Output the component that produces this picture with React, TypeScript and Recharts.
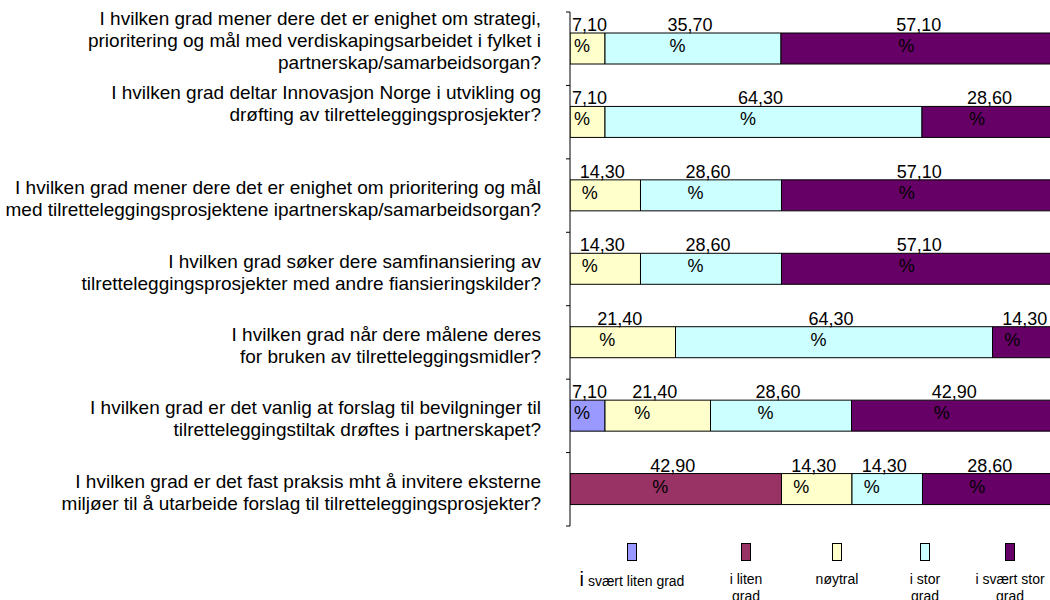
import React from 'react';
import { BarChart, Bar, XAxis, YAxis, Legend, LabelList } from 'recharts';

// spørsmål (blank trailing lines keep the original vertical placement)
const questions = [
    'I hvilken grad mener dere det er enighet om strategi,\nprioritering og mål med verdiskapingsarbeidet i fylket i\npartnerskap/samarbeidsorgan?\n',
    'I hvilken grad deltar Innovasjon Norge i utvikling og\ndrøfting av tilretteleggingsprosjekter?\n\n',
    'I hvilken grad mener dere det er enighet om prioritering og mål\nmed tilretteleggingsprosjektene ipartnerskap/samarbeidsorgan?',
    'I hvilken grad søker dere samfinansiering av\ntilretteleggingsprosjekter med andre fiansieringskilder?',
    'I hvilken grad når dere målene deres\nfor bruken av tilretteleggingsmidler?',
    'I hvilken grad er det vanlig at forslag til bevilgninger til\ntilretteleggingstiltak drøftes i partnerskapet?',
    'I hvilken grad er det fast praksis mht å invitere eksterne\nmiljøer til å utarbeide forslag til tilretteleggingsprosjekter?',
];

const sværtLiten = [0, 0, 0, 0, 0, 7.1, 0];
const liten = [0, 0, 0, 0, 0, 0, 42.9];
const nøytral = [7.1, 7.1, 14.3, 14.3, 21.4, 21.4, 14.3];
const stor = [35.7, 64.3, 28.6, 28.6, 64.3, 28.6, 14.3];
const sværtStor = [57.1, 28.6, 57.1, 57.1, 14.3, 42.9, 28.6];

const seriesNames = ['i svært liten grad', 'i liten grad', 'nøytral', 'i stor grad', 'i svært stor grad'];
const seriesKeys = ['sl', 'l', 'n', 's', 'ss'];
const seriesColors = ['#9999FF', '#993366', '#FFFFCC', '#CCFFFF', '#660066'];

const data = questions.map((q, i) => ({
    q,
    sl: sværtLiten[i],
    l: liten[i],
    n: nøytral[i],
    s: stor[i],
    ss: sværtStor[i],
}));

const FONT = '"Liberation Sans", Arial, sans-serif';
const BAND_HALF = (526 - 12) / questions.length / 2;

const CategoryTick = (props: any) => {
    const { x, y, payload, index } = props;
    const lines: string[] = payload.value.split('\n');
    const lh = 22;
    const y0 = y - ((lines.length - 1) * lh) / 2;
    const axisX = x + 29;
    return (
        <g>
            <text x={x} y={y0} textAnchor="end" fontSize={19} fontFamily={FONT} fill="#000">
                {lines.map((l, i) => (
                    <tspan key={i} x={x} y={y0 + i * lh} dy="0.5em">
                        {l}
                    </tspan>
                ))}
            </text>
            <line x1={axisX - 4} x2={axisX} y1={y - BAND_HALF} y2={y - BAND_HALF} stroke="#000" />
            {index === questions.length - 1 && (
                <line x1={axisX - 4} x2={axisX} y1={y + BAND_HALF} y2={y + BAND_HALF} stroke="#000" />
            )}
        </g>
    );
};

const ValueLabel = (props: any) => {
    const { x, y, width, value } = props;
    if (!value) return null;
    const str = Number(value).toFixed(2).replace('.', ',');
    const numW = str.split('').reduce((w, c) => w + (c === ',' ? 0.278 : 0.556), 0) * 18;
    const start = Math.max(x + width / 2 - 3 - numW / 2, x + 2);
    return (
        <g fontFamily={FONT} fontSize={18} fill="#000">
            <text x={start} y={y - 2}>{str}</text>
            <text x={start + 2} y={y + 19}>%</text>
        </g>
    );
};

const legendCenters = [632, 746, 837, 925, 1010];
const legendWidths = [130, 50, 60, 50, 80];

const LegendContent = () => (
    <div style={{ position: 'relative', width: 1050, height: 62, fontFamily: FONT }}>
        {seriesNames.map((name, i) => (
            <div
                key={name}
                style={{
                    position: 'absolute',
                    left: legendCenters[i] - legendWidths[i] / 2,
                    top: 5,
                    width: legendWidths[i],
                    display: 'flex',
                    flexDirection: 'column',
                    alignItems: 'center',
                }}
            >
                <div
                    style={{
                        width: 8,
                        height: 16,
                        background: seriesColors[i],
                        border: '1.5px solid #000',
                    }}
                />
                <div style={{ marginTop: 10, fontSize: 14, lineHeight: '17px', textAlign: 'center', color: '#000' }}>
                    {i === 0 ? (
                        <>
                            <span style={{ fontSize: 20 }}>{name.charAt(0)}</span>
                            {name.slice(1)}
                        </>
                    ) : (
                        name
                    )}
                </div>
            </div>
        ))}
    </div>
);

export default function App() {
    return (
        <div
            style={{
                position: 'fixed',
                top: 0,
                left: 0,
                width: 1050,
                height: 600,
                overflow: 'hidden',
                background: '#fff',
            }}
        >
            <BarChart
                width={1070}
                height={600}
                data={data}
                layout="vertical"
                margin={{ top: 12, right: 7, bottom: 74, left: 0 }}
            >
                <XAxis type="number" domain={[0, 100]} allowDataOverflow hide />
                <YAxis
                    type="category"
                    dataKey="q"
                    width={570}
                    axisLine={{ stroke: '#000' }}
                    tickLine={false}
                    tickSize={0}
                    tickMargin={29}
                    interval={0}
                    tick={<CategoryTick />}
                />
                {seriesKeys.map((k, i) => (
                    <Bar
                        key={k}
                        dataKey={k}
                        name={seriesNames[i]}
                        stackId="a"
                        fill={seriesColors[i]}
                        stroke="#000"
                        strokeWidth={1}
                        barSize={31}
                        isAnimationActive={false}
                    >
                        <LabelList dataKey={k} content={<ValueLabel />} />
                    </Bar>
                ))}
                <Legend
                    layout="horizontal"
                    verticalAlign="middle"
                    align="center"
                    wrapperStyle={{ top: 538, left: 0, width: 1050, height: 62 }}
                    content={<LegendContent />}
                />
            </BarChart>
        </div>
    );
}
